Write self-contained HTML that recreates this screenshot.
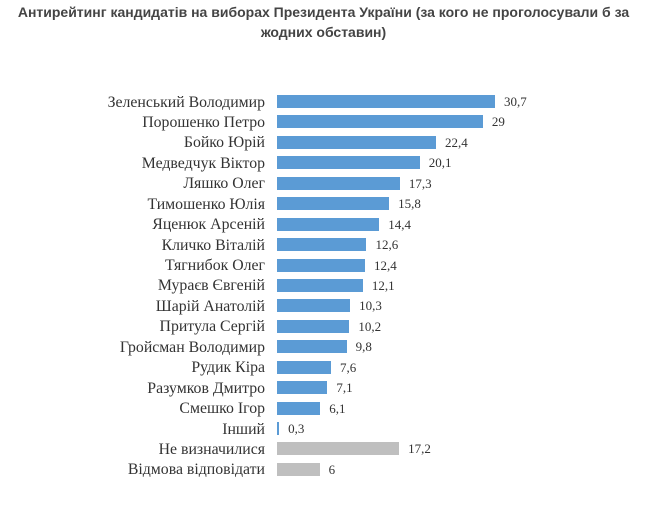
<!DOCTYPE html>
<html><head><meta charset="utf-8"><style>
body{margin:0;background:#fff;width:647px;height:507px;overflow:hidden;position:relative}
.t{position:absolute;left:0;width:647px;top:2px;text-align:center;font-family:"Liberation Sans",sans-serif;font-weight:bold;font-size:14px;line-height:20px;color:#444}
.l{position:absolute;right:382px;font-family:"Liberation Serif",serif;font-size:15.8px;color:#333;white-space:nowrap;line-height:13px}
.b{position:absolute;left:277px;height:13px;background:#5b9bd5}
.g{background:#bfbfbf}
.v{position:absolute;font-family:"Liberation Serif",serif;font-size:13px;color:#333;line-height:13px}
</style></head><body>
<div class="t">Антирейтинг кандидатів на виборах Президента України (за кого не проголосували б за<br>жодних обставин)</div>
<div id="c"></div>
<script>
var d=[["Зеленський Володимир",30.7],["Порошенко Петро",29],["Бойко Юрій",22.4],["Медведчук Віктор",20.1],["Ляшко Олег",17.3],["Тимошенко Юлія",15.8],["Яценюк Арсеній",14.4],["Кличко Віталій",12.6],["Тягнибок Олег",12.4],["Мураєв Євгеній",12.1],["Шарій Анатолій",10.3],["Притула Сергій",10.2],["Гройсман Володимир",9.8],["Рудик Кіра",7.6],["Разумков Дмитро",7.1],["Смешко Ігор",6.1],["Інший",0.3],["Не визначилися",17.2],["Відмова відповідати",6]];
var h="";d.forEach(function(r,i){var y=95+i*20.44,w=r[1]*7.1;if(w<2)w=2;
h+='<div class="l" style="top:'+(y+0.5)+'px">'+r[0]+'</div><div class="b'+(i>16?' g':'')+'" style="top:'+y+'px;width:'+w+'px"></div><div class="v" style="top:'+y+'px;left:'+(277+w+9)+'px">'+String(r[1]).replace('.',',')+'</div>';});
document.getElementById("c").innerHTML=h;
</script>
</body></html>
